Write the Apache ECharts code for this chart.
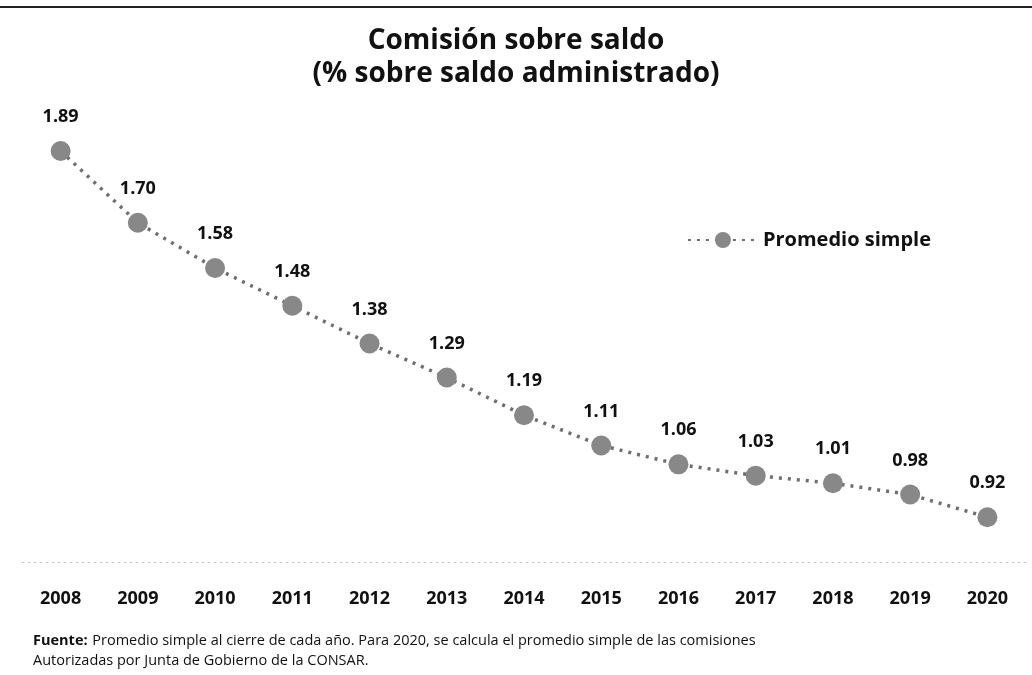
<!DOCTYPE html>
<html>
<head>
<meta charset="utf-8">
<script src="https://cdn.jsdelivr.net/npm/echarts@6/dist/echarts.min.js"></script>
<style>
    html, body { margin: 0; padding: 0; background: #fff; }
    #chart { width: 1032px; height: 675px; }
</style>
</head>
<body>
<div id="chart"></div>
<script>
// datos
var years = ["2008", "2009", "2010", "2011", "2012", "2013", "2014", "2015", "2016", "2017", "2018", "2019", "2020"];
var promedio = [1.89, 1.70, 1.58, 1.48, 1.38, 1.29, 1.19, 1.11, 1.06, 1.03, 1.01, 0.98, 0.92];
var titulo = "Comisión sobre saldo\n(% sobre saldo administrado)";
var fuente = [
    "Promedio simple al cierre de cada año. Para 2020, se calcula el promedio simple de las comisiones",
    "Autorizadas por Junta de Gobierno de la CONSAR.",
];

var chart = echarts.init(document.getElementById("chart"));
chart.setOption({
    backgroundColor: "#fff",
    textStyle: { fontFamily: "Open Sans" },
    title: [
        {
            text: titulo,
            left: "center",
            top: 20,
            textStyle: { fontSize: 28, fontWeight: "bold", color: "#111", lineHeight: 33, fontFamily: "Open Sans" },
        },
        {
            text: "{b|Fuente:} {n|" + fuente[0] + "}\n{n|" + fuente[1] + "}",
            left: 28,
            top: 626,
            textStyle: {
                fontWeight: "normal",
                rich: {
                    b: { fontSize: 14.5, fontWeight: "bold", color: "#111", fontFamily: "Open Sans", lineHeight: 20 },
                    n: { fontSize: 14.5, fontWeight: "normal", color: "#111", fontFamily: "Open Sans", lineHeight: 20 },
                },
            },
        },
    ],
    legend: {
        data: ["Promedio simple"],
        right: 96,
        top: 225,
        itemWidth: 70,
        itemHeight: 20,
        itemGap: 10,
        textStyle: { fontSize: 20, fontWeight: "bold", color: "#111" },
    },
    graphic: [
        {
            type: "line",
            shape: { x1: 0, y1: 7, x2: 1032, y2: 7 },
            style: { stroke: "#222", lineWidth: 2 },
        },
    ],
    grid: { left: 22, right: 6, top: 109.5, bottom: 112.5 },
    xAxis: {
        type: "category",
        data: years,
        boundaryGap: true,
        axisLine: { show: true, lineStyle: { color: "#c8c8c8", type: [2, 4], width: 1 } },
        axisTick: { show: false },
        axisLabel: { margin: 27, fontSize: 18, fontWeight: "bold", color: "#111" },
    },
    yAxis: {
        type: "value",
        min: 0.8,
        max: 2.0,
        show: false,
        splitLine: { show: false },
    },
    series: [
        {
            name: "Promedio simple",
            type: "line",
            data: promedio,
            symbol: "circle",
            symbolSize: 20,
            itemStyle: { color: "#888888" },
            lineStyle: { color: "#6f6f6f", width: 3.5, type: [3, 6] },
            label: {
                show: true,
                position: "top",
                distance: 15,
                fontSize: 18,
                fontWeight: "bold",
                color: "#111",
                formatter: function (p) { return p.value.toFixed(2); },
            },
        },
    ],
});
</script>
</body>
</html>
